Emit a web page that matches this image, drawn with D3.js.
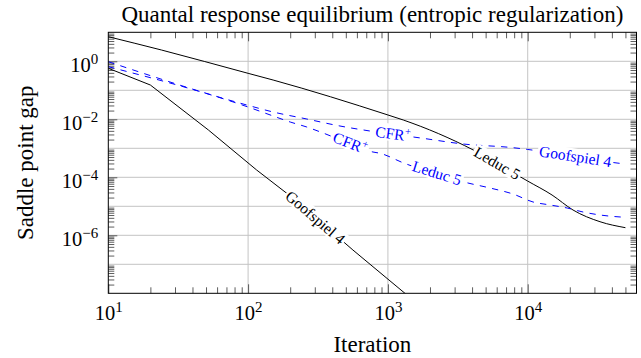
<!DOCTYPE html>
<html lang="en">
<head>
<meta charset="UTF-8">
<script src="https://d3js.org/d3.v7.min.js"></script>
<style>
  body { margin: 0; background: #fff; }
  svg { display: block; font-family: "Liberation Serif", "Times New Roman", serif; }
</style>
</head>
<body>
<svg id="chart" width="641" height="358"></svg>
<script>
// values (iteration vs saddle point gap)
const solidLeducIter = [10, 24, 100, 151, 1000, 1288, 4083, 8810, 10000, 14930, 21090, 32890, 50000];
const solidLeducGap  = [7.05, 2.45, 0.385, 0.226, 0.0141, 0.00946, 8.73e-4, 1.05e-4, 7.4e-5, 2.45e-5, 7.45e-6, 2.94e-6, 1.83e-6];

const solidGoofIter = [10, 20, 52, 115, 189, 480, 562, 1324, 2000];
const solidGoofGap  = [0.574, 0.152, 4.28e-3, 1.79e-4, 2.81e-5, 6.01e-7, 3.11e-7, 1.0e-8, 1.95e-9];

const cfrGoofIter = [10, 100, 151, 263, 454, 743, 1782, 3443, 7852, 10000, 20890, 43550, 50000];
const cfrGoofGap  = [0.968, 0.0302, 0.01786, 0.01023, 5.87e-3, 3.95e-3, 2.21e-3, 1.41e-3, 1.05e-3, 9.12e-4, 5.32e-4, 3.11e-4, 2.88e-4];

const cfrLeducIter = [10, 100, 151, 200, 263, 344, 782, 877, 1282, 3741, 5370, 7852, 10910, 14450, 19140, 24890, 32960, 50000];
const cfrLeducGap  = [0.652, 0.0265, 0.0130, 8.07e-3, 5.42e-3, 3.37e-3, 7.45e-4, 6.73e-4, 3.18e-4, 6.35e-5, 4.28e-5, 2.65e-5, 1.41e-5, 1.11e-5, 8.73e-6, 6.35e-6, 5.01e-6, 4.17e-6];

// tick labels (powers of ten)
const xTickExp = [1, 2, 3, 4];
const yTickExp = [0, -2, -4, -6];

const svg = d3.select("#chart");
const x = d3.scaleLog().domain([10, 6e4]).range([108.3, 636.5]);
const y = d3.scaleLog().domain([1e-8, 10]).range([293.3, 32.3]);
const [x0, x1] = x.range();
const [y0, y1] = y.range();

const font = "'Liberation Serif', 'Times New Roman', serif";

// grid lines at every decade
const xDecades = [100, 1000, 10000];
const yDecades = d3.range(-7, 1).map(e => Math.pow(10, e));

svg.append("g").selectAll("line").data(xDecades).join("line")
    .attr("x1", d => x(d)).attr("x2", d => x(d))
    .attr("y1", y0).attr("y2", y1)
    .attr("stroke", "#c4c4c4").attr("stroke-width", 1);
svg.append("g").selectAll("line").data(yDecades).join("line")
    .attr("x1", x0).attr("x2", x1)
    .attr("y1", d => y(d)).attr("y2", d => y(d))
    .attr("stroke", "#c4c4c4").attr("stroke-width", 1);

// minor tick values
const xMinor = [];
for (let e = 1; e <= 4; e++) for (let m = 2; m <= 9; m++) if (m * Math.pow(10, e) < 6e4) xMinor.push(m * Math.pow(10, e));
const yMinor = [];
for (let e = -8; e <= 0; e++) for (let m = 2; m <= 9; m++) yMinor.push(m * Math.pow(10, e));

function tidy(g) {
    g.select(".domain").remove();
    g.selectAll("line").attr("stroke", "#333").attr("stroke-width", 0.8);
    g.attr("font-family", font).attr("font-size", 20.5);
}
function supText(sel) {
    sel.each(function (d) {
        const e = Math.round(Math.log10(d));
        const t = d3.select(this).text(null).attr("fill", "#000");
        t.append("tspan").text("10");
        t.append("tspan").attr("dy", -8).attr("font-size", 15).text(e < 0 ? "\u2212" + (-e) : e);
    });
}

// bottom axis
const gxB = svg.append("g").attr("transform", `translate(0,${y0})`)
    .call(d3.axisBottom(x).tickValues(xTickExp.map(e => Math.pow(10, e))).tickSize(-9).tickSizeOuter(0).tickPadding(12).tickFormat(""));
tidy(gxB);
gxB.selectAll("text").call(supText);
svg.append("g").attr("transform", `translate(0,${y0})`)
    .call(d3.axisBottom(x).tickValues(xMinor).tickSize(-6).tickSizeOuter(0).tickFormat("")).call(tidy);
// top axis
svg.append("g").attr("transform", `translate(0,${y1})`)
    .call(d3.axisTop(x).tickValues(xDecades).tickSize(-9).tickSizeOuter(0).tickFormat("")).call(tidy);
svg.append("g").attr("transform", `translate(0,${y1})`)
    .call(d3.axisTop(x).tickValues(xMinor).tickSize(-6).tickSizeOuter(0).tickFormat("")).call(tidy);

// left axis
const gyL = svg.append("g").attr("transform", `translate(${x0},0)`)
    .call(d3.axisLeft(y).tickValues(yTickExp.map(e => Math.pow(10, e))).tickSize(-9).tickSizeOuter(0).tickPadding(10).tickFormat(""));
tidy(gyL);
gyL.selectAll("text").attr("dy", "0.5em").call(supText);
svg.append("g").attr("transform", `translate(${x0},0)`)
    .call(d3.axisLeft(y).tickValues(yMinor).tickSize(-6).tickSizeOuter(0).tickFormat("")).call(tidy);
// right axis
svg.append("g").attr("transform", `translate(${x1},0)`)
    .call(d3.axisRight(y).tickValues(yMinor).tickSize(-6).tickSizeOuter(0).tickFormat("")).call(tidy);

// clip for the series
svg.append("clipPath").attr("id", "plot-clip").append("rect")
    .attr("x", x0).attr("y", y1).attr("width", x1 - x0).attr("height", y0 - y1);

const series = [
    {iter: solidLeducIter, gap: solidLeducGap, color: "#000", dash: null, curve: d3.curveMonotoneX},
    {iter: solidGoofIter, gap: solidGoofGap, color: "#000", dash: null, curve: d3.curveLinear},
    {iter: cfrGoofIter, gap: cfrGoofGap, color: "#0000ff", dash: "6.3,6.3", curve: d3.curveMonotoneX},
    {iter: cfrLeducIter, gap: cfrLeducGap, color: "#0000ff", dash: "6.3,6.3", curve: d3.curveMonotoneX}
];
const plot = svg.append("g").attr("clip-path", "url(#plot-clip)");
series.forEach(s => {
    const line = d3.line().x(d => x(d[0])).y(d => y(d[1])).curve(s.curve);
    plot.append("path")
        .datum(s.iter.map((v, i) => [v, s.gap[i]]))
        .attr("d", line)
        .attr("fill", "none")
        .attr("stroke", s.color)
        .attr("stroke-width", 1)
        .attr("stroke-dasharray", s.dash);
});

// inline labels sitting on the curves
const labels = [
    {s: series[0], at: 6030, text: "Leduc 5"},
    {s: series[1], at: 302, text: "Goofspiel 4"},
    {s: series[2], at: 1087, text: "CFR", sup: "+"},
    {s: series[2], at: 21900, text: "Goofspiel 4"},
    {s: series[3], at: 537, text: "CFR", sup: "+"},
    {s: series[3], at: 2240, text: "Leduc 5"}
];
labels.forEach(l => {
    const it = l.s.iter, gp = l.s.gap;
    let i = 0;
    while (i < it.length - 2 && it[i + 1] < l.at) i++;
    const t = (Math.log10(l.at) - Math.log10(it[i])) / (Math.log10(it[i + 1]) - Math.log10(it[i]));
    const lg = Math.log10(gp[i]) + t * (Math.log10(gp[i + 1]) - Math.log10(gp[i]));
    const px = x(l.at), py = y(Math.pow(10, lg));
    const ang = Math.atan2(y(gp[i + 1]) - y(gp[i]), x(it[i + 1]) - x(it[i])) * 180 / Math.PI;
    const g = svg.append("g").attr("transform", `translate(${px},${py}) rotate(${ang})`);
    const txt = g.append("text")
        .attr("text-anchor", "middle").attr("dy", "0.32em")
        .attr("font-family", font).attr("font-size", 15.5)
        .attr("fill", l.s.color);
    txt.append("tspan").text(l.text);
    if (l.sup) txt.append("tspan").attr("dy", -6).attr("font-size", 11).text(l.sup);
    const bb = txt.node().getBBox();
    g.insert("rect", "text")
        .attr("x", bb.x - 1.5).attr("y", bb.y + 1).attr("width", bb.width + 3).attr("height", bb.height - 2)
        .attr("fill", "#fff");
});

// frame
svg.append("rect")
    .attr("x", x0).attr("y", y1).attr("width", x1 - x0).attr("height", y0 - y1)
    .attr("fill", "none").attr("stroke", "#000").attr("stroke-width", 1);

// titles
svg.append("text")
    .attr("x", (x0 + x1) / 2).attr("y", 21.7)
    .attr("text-anchor", "middle").attr("font-family", font).attr("font-size", 23)
    .text("Quantal response equilibrium (entropic regularization)");
svg.append("text")
    .attr("x", (x0 + x1) / 2).attr("y", 351.7)
    .attr("text-anchor", "middle").attr("font-family", font).attr("font-size", 23)
    .text("Iteration");
svg.append("text")
    .attr("transform", `translate(33.3,${(y0 + y1) / 2}) rotate(-90)`)
    .attr("text-anchor", "middle").attr("font-family", font).attr("font-size", 23)
    .text("Saddle point gap");
</script>
</body>
</html>
